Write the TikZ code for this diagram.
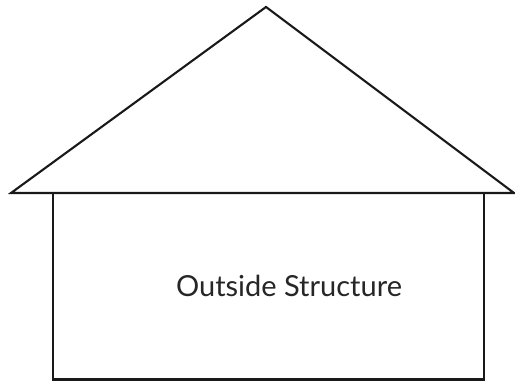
\documentclass[tikz,border=0pt]{standalone}
\usepackage{fontspec}
\setmainfont{Lato}
\usetikzlibrary{positioning}

\begin{document}
\begin{tikzpicture}[
        x=0.02cm, y=-0.02cm,
        font=\fontsize{16.5}{19}\selectfont,
        outline/.style={draw=black!90, line width=1.2pt, line join=miter},
        label/.style={align=center, inner sep=0pt, text=black!85}
    ]
    \useasboundingbox (0,0) rectangle (515,381);

    % ====== Roof ======
    \coordinate (apex) at (266, 7);
    \coordinate (eaveL) at (11, 193);
    \coordinate (eaveR) at (514, 193);
    \draw[outline] (eaveL) -- (apex) -- (eaveR) -- cycle;

    % ====== Walls ======
    \coordinate (wallTL) at (53, 193);
    \coordinate (wallBR) at (484, 379.5);
    \draw[outline] (wallTL) rectangle (wallBR);

    \node[label] (structure) at (289, 286) {Outside Structure};
\end{tikzpicture}
\end{document}
